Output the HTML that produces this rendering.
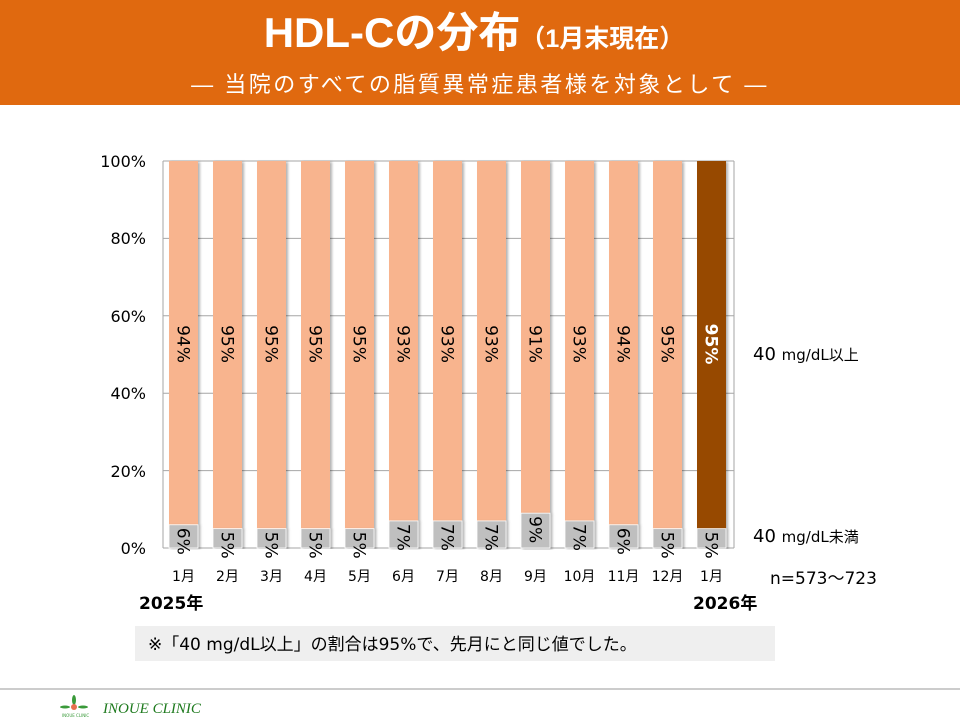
<!DOCTYPE html>
<html><head><meta charset="utf-8"><style>
body{margin:0;width:960px;height:720px;background:#fff;overflow:hidden;font-family:"DejaVu Sans","Noto Sans CJK JP",sans-serif;}
</style></head><body>
<svg width="960" height="720" xmlns="http://www.w3.org/2000/svg" font-family="DejaVu Sans, Noto Sans CJK JP, sans-serif">
<defs><filter id="sh" x="-20%" y="-5%" width="150%" height="110%"><feDropShadow dx="2" dy="1" stdDeviation="1.2" flood-color="#000" flood-opacity="0.3"/></filter></defs>
<rect x="0" y="0" width="960" height="105" fill="#E0690F"/>
<text x="474" y="47" text-anchor="middle" fill="#fff" font-weight="bold" font-size="42" font-family="Liberation Sans, Noto Sans CJK JP, sans-serif">HDL-Cの分布<tspan font-size="25">（1月末現在）</tspan></text>
<text x="480" y="92" text-anchor="middle" fill="#fff" font-size="22" font-family="Liberation Sans, Noto Sans CJK JP, sans-serif" letter-spacing="2.5">―  当院のすべての脂質異常症患者様を対象として  ―</text>
<g stroke="#a6a6a6" stroke-width="1">
<line x1="163" y1="161" x2="734" y2="161"/><line x1="163" y1="238.4" x2="734" y2="238.4"/><line x1="163" y1="315.8" x2="734" y2="315.8"/><line x1="163" y1="393.2" x2="734" y2="393.2"/><line x1="163" y1="470.6" x2="734" y2="470.6"/>
<line x1="163" y1="161" x2="163" y2="548"/><line x1="734" y1="161" x2="734" y2="548"/><line x1="163" y1="548" x2="734" y2="548"/>
</g>
<g font-size="16" fill="#000" text-anchor="end">
<text x="146" y="167">100%</text><text x="146" y="244">80%</text><text x="146" y="322">60%</text><text x="146" y="399">40%</text><text x="146" y="477">20%</text><text x="146" y="554">0%</text>
</g>
<g id="bars"></g>
<text x="753" y="360" font-size="18">40 <tspan font-size="15">mg/dL以上</tspan></text>
<text x="753" y="542" font-size="18">40 <tspan font-size="15">mg/dL未満</tspan></text>
<text x="770" y="584" font-size="17">n=573～723</text>
<text x="139" y="609" font-size="17" font-weight="bold">2025年</text>
<text x="693" y="609" font-size="17" font-weight="bold">2026年</text>
<rect x="135" y="626" width="640" height="35" fill="#efefef"/>
<text x="148" y="650" font-size="17">※「40 mg/dL以上」の割合は95%で、先月にと同じ値でした。</text>
<line x1="0" y1="689" x2="960" y2="689" stroke="#999" stroke-width="1"/>
<g fill="#3a9a3a"><ellipse cx="74" cy="700" rx="2" ry="5"/><ellipse cx="65" cy="707" rx="5" ry="1.5"/><ellipse cx="83" cy="707" rx="5" ry="1.5"/></g>
<circle cx="74" cy="707" r="3" fill="#e87050"/>
<text x="62" y="717" font-size="4" fill="#3a9a3a">INOUE CLINIC</text>
<text x="103" y="713" font-size="15" font-style="italic" fill="#1e7a1e" font-family="Liberation Serif, serif">INOUE CLINIC</text>
</svg>
<script>
var low=[6,5,5,5,5,7,7,7,9,7,6,5,5];
var mon=["1月","2月","3月","4月","5月","6月","7月","8月","9月","10月","11月","12月","1月"];
var g=document.getElementById('bars'),s='';
for(var i=0;i<13;i++){
 var cx=183.5+44*i,x=cx-14.5,w=29;
 var yl=548-3.87*low[i];
 var last=i==12;
 s+='<rect x="'+x+'" y="161" width="'+w+'" height="'+(yl-161)+'" fill="'+(last?'#974806':'#F8B48E')+'" filter="url(#sh)"/>';
 s+='<rect x="'+x+'" y="'+yl+'" width="'+w+'" height="'+(548-yl)+'" fill="#bfbfbf" filter="url(#sh)" stroke="#fff" stroke-width="0.8"/>';
 var hi=100-low[i];
 s+='<text transform="translate('+(cx-6)+',344) rotate(90)" text-anchor="middle" font-size="17" '+(last?'fill="#fff" font-weight="bold"':'fill="#000"')+'>'+hi+'%</text>';
 s+='<text transform="translate('+(cx-6)+','+(yl+3)+') rotate(90)" text-anchor="start" font-size="17" fill="#000">'+low[i]+'%</text>';
 s+='<text x="'+cx+'" y="581" text-anchor="middle" font-size="14">'+mon[i]+'</text>';
}
g.innerHTML=s;
</script>
</body></html>
